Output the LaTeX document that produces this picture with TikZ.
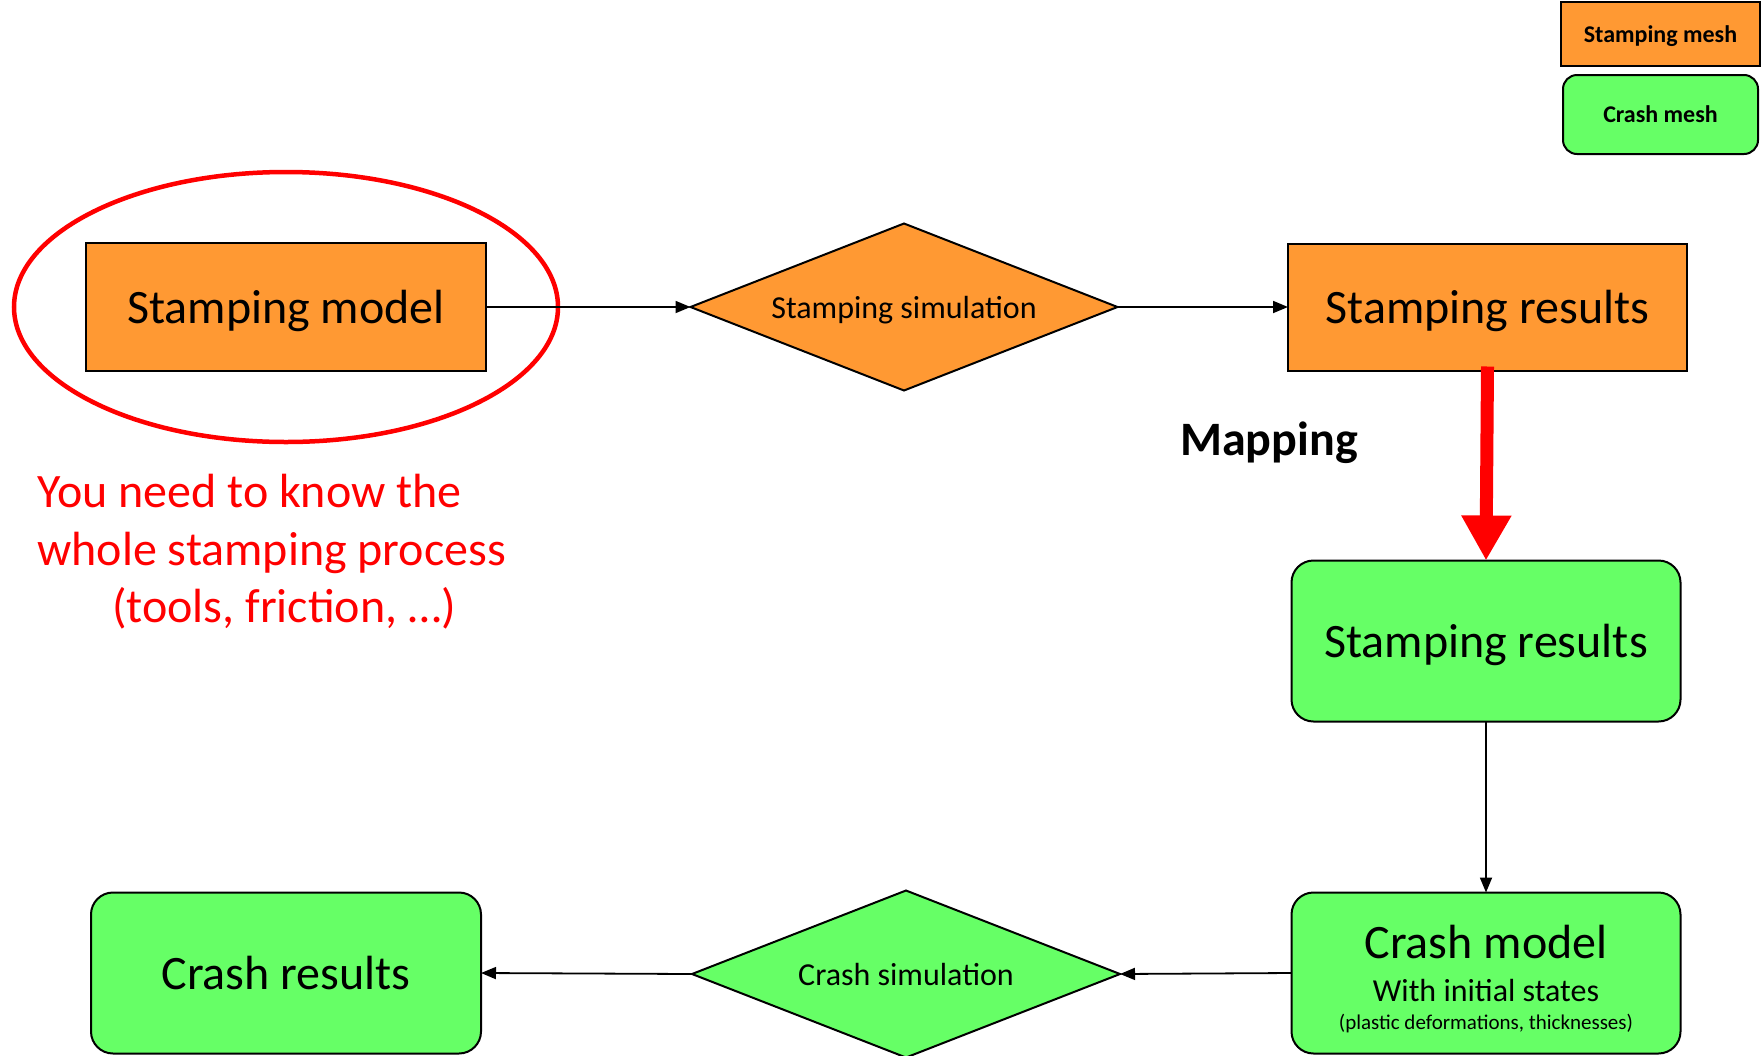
\documentclass[tikz,border=0pt]{standalone}
\usepackage{fontspec}
\setmainfont{Carlito}
\usetikzlibrary{shapes.geometric,arrows.meta}
\definecolor{stamporange}{RGB}{255,153,51}
\definecolor{crashgreen}{RGB}{102,255,102}
\begin{document}
\begin{tikzpicture}[x=1pt,y=-1pt,
  box/.style={draw=black, line width=2pt, inner sep=0pt, outer sep=0pt, text depth=0pt},
  orangebox/.style={box, rectangle, fill=stamporange},
  greenbox/.style={box, rectangle, fill=crashgreen, rounded corners=22pt},
  decision/.style={box, diamond, aspect=2.56},
  flow/.style={draw=black, line width=1.8pt, -{Triangle[length=15pt,width=12pt]}},
  big/.style={font=\fontsize{48}{57}\selectfont},
  mid/.style={font=\fontsize{32}{38}\selectfont},
  legendtext/.style={font=\bfseries\fontsize{24}{28}\selectfont},
  remark/.style={text=red, font=\fontsize{48}{57}\selectfont, inner sep=0pt, anchor=base west},
]
\useasboundingbox (0,0) rectangle (1761,1055);

% legend
\node[orangebox, legendtext, minimum width=199pt, minimum height=64pt] (legstamp) at (1660.5,34) {Stamping mesh};
\node[greenbox, legendtext, rounded corners=14pt, minimum width=195pt, minimum height=79pt] (legcrash) at (1660.5,114.5) {Crash mesh};

% stamping chain
\node[orangebox, big, minimum width=400pt, minimum height=128pt] (smodel) at (286,307) {Stamping model};
\node[decision, fill=stamporange, mid, minimum width=427pt, minimum height=167pt] (ssim) at (904,307) {Stamping simulation};
\node[orangebox, big, minimum width=399pt, minimum height=127pt] (sres) at (1487.5,307) {Stamping results};

% highlight around the stamping model
\node[ellipse, draw=red, line width=4.5pt, minimum width=544pt, minimum height=270pt, inner sep=0pt] (focus) at (286,307) {};

% crash chain
\node[greenbox, big, minimum width=389pt, minimum height=161pt] (gres) at (1486,641) {Stamping results};
\node[greenbox, minimum width=389pt, minimum height=161pt] (cmodel) at (1486,973) {};
\node[big, anchor=base, inner sep=0pt] (cmtitle) at (1486,958) {Crash model};
\node[mid, anchor=base, inner sep=0pt] (cmsub) at (1486,1001) {With initial states};
\node[font=\fontsize{21}{25}\selectfont, anchor=base, inner sep=0pt] (cmnote) at (1486,1029) {(plastic deformations, thicknesses)};
\node[decision, fill=crashgreen, mid, minimum width=428pt, minimum height=167pt] (csim) at (906,974) {Crash simulation};
\node[greenbox, big, minimum width=390pt, minimum height=161pt] (cres) at (286,973) {Crash results};

% connectors
\draw[flow] (smodel.east) -- (ssim.west);
\draw[flow] (ssim.east) -- (sres.west);
\draw[flow] (gres.south) -- (cmodel.north);
\draw[flow] (cmodel.west) -- (csim.east);
\draw[flow] (csim.west) -- (cres.east);

% mapping step
\draw[red, line width=13pt, -{Triangle[length=45pt,width=47pt]}] ([yshift=4pt]sres.south) -- (gres.north);
\node[font=\bfseries\fontsize{48}{57}\selectfont, anchor=base, inner sep=0pt] (maplabel) at (1269,455) {Mapping};

% remark below the highlight
\node[remark] (note1) at (37,507) {You need to know the};
\node[remark] (note2) at (37,565) {whole stamping process};
\node[remark] (note3) at (112,622) {(tools, friction, …)};
\end{tikzpicture}
\end{document}
